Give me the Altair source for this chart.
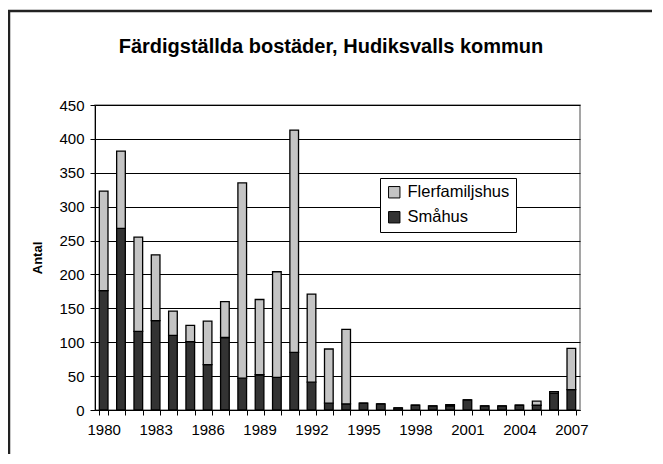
import altair as alt
import pandas as pd

title_text = "Färdigställda bostäder, Hudiksvalls kommun"
years = [str(y) for y in range(1980, 2008)]
smahus = [176, 268, 116, 132, 110, 101, 67, 107, 47, 52,
          48, 85, 41, 10, 9, 10, 9, 3, 7, 6,
          6, 15, 6, 6, 7, 7, 25, 30]
totals = [323, 382, 255, 229, 146, 125, 131, 160, 335, 163,
          204, 413, 171, 90, 119, 10, 9, 3, 7, 6,
          8, 15, 6, 6, 7, 13, 27, 91]
flerfamilj = [t - s for t, s in zip(totals, smahus)]
series = ["Flerfamiljshus", "Småhus"]

rows = []
for y, s, f in zip(years, smahus, flerfamilj):
    rows.append({"year": y, "typ": "Småhus", "antal": s, "ord": 0})
    rows.append({"year": y, "typ": "Flerfamiljshus", "antal": f, "ord": 1})
df = pd.DataFrame(rows)

FONT = "Liberation Sans"

bars = alt.Chart(df).mark_bar(stroke="black", strokeWidth=1.3).encode(
    x=alt.X("year:O", title=None,
            scale=alt.Scale(paddingInner=0.5, paddingOuter=0.25),
            axis=alt.Axis(labelAngle=0, tickBand="extent",
                          labelExpr="(toNumber(datum.value) - 1980) % 3 == 0 ? datum.value : ''",
                          labelFont=FONT, labelFontSize=15, labelColor="black",
                          domainColor="black", tickColor="black", tickSize=5,
                          labelPadding=7, grid=False)),
    y=alt.Y("antal:Q", title="Antal", stack="zero",
            scale=alt.Scale(domain=[0, 450], nice=False),
            axis=alt.Axis(values=list(range(0, 451, 50)), labelFont=FONT, labelFontSize=15,
                          labelColor="black", domainColor="black", tickColor="black",
                          tickSize=5, labelPadding=6, gridColor="black", gridWidth=1,
                          titleFont=FONT, titleFontSize=13, titleFontWeight="bold",
                          titleColor="black", titlePadding=14)),
    color=alt.Color("typ:N", scale=alt.Scale(domain=series, range=["#c4c4c4", "#333333"]),
                    legend=alt.Legend(title=None, orient="none", legendX=285, legendY=73,
                                      labelFont=FONT, labelFontSize=16.5, labelColor="black",
                                      symbolType="square", symbolSize=130,
                                      symbolStrokeColor="black", symbolStrokeWidth=1,
                                      strokeColor="black", fillColor="white",
                                      padding=6, rowPadding=8, labelOffset=5,
                                      labelLimit=300)),
    order=alt.Order("ord:Q"),
)

one = pd.DataFrame({"a": [0]})
frame_left = alt.Chart(one).mark_rule(color="#222222", strokeWidth=2.5, clip=False).encode(
    x=alt.value(-86), y=alt.value(-94), y2=alt.value(350))
frame_top = alt.Chart(one).mark_rule(color="#222222", strokeWidth=2.5, clip=False).encode(
    x=alt.value(-87), x2=alt.value(560), y=alt.value(-94))

title = alt.Chart(pd.DataFrame({"t": [title_text]})).mark_text(
    font=FONT, fontSize=20, fontWeight="bold", color="black",
    align="center", baseline="middle", clip=False
).encode(text="t:N", x=alt.value(236), y=alt.value(-58))

chart = alt.layer(frame_left, frame_top, bars, title).properties(
    width=485, height=305,
    autosize=alt.AutoSizeParams(type="none"),
    padding={"left": 87, "top": 97, "right": 72, "bottom": 44},
).configure_view(stroke="#888888", strokeWidth=1.5)

chart.save("out.html", embed_options={"renderer": "svg", "actions": False})
